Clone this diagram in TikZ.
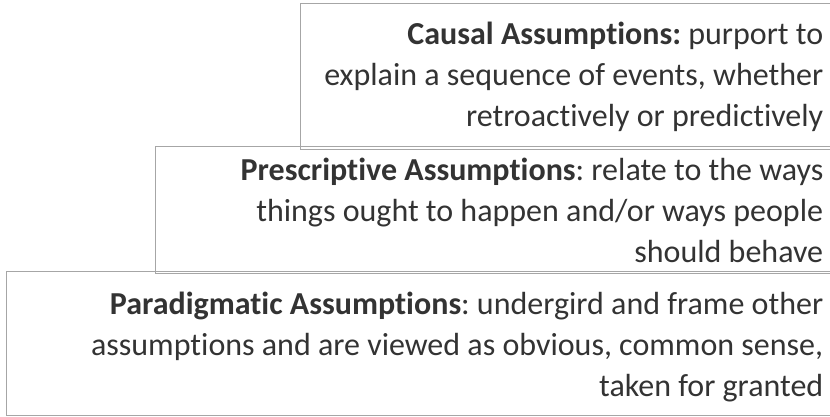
\documentclass[tikz,border=0pt]{standalone}
\usepackage{fontspec}
\setmainfont{Carlito}[Ligatures=NoCommon]
\frenchspacing
\begin{document}
\begin{tikzpicture}[
        x=1pt, y=-1pt,
        % Box and text styles
        assumption/.style={rectangle, draw=gray!70, line width=1.4pt, anchor=north west},
        desc/.style={anchor=east, align=right, inner sep=0pt, text=black!80, font=\fontsize{32}{41}\selectfont, xshift=-18pt}
    ]
        \useasboundingbox (0,0) rectangle (830,416);
        % Boxes, from top to bottom (right edges run off the page)
        \node (causal) [assumption, minimum width=540pt, minimum height=146pt] at (300,3) {};
        \node (prescr) [assumption, minimum width=685pt, minimum height=127pt] at (155,146) {};
        \node (paradigm) [assumption, minimum width=834pt, minimum height=144pt] at (6,271) {};
        % Texts, flush right inside each box
        \node (causaltxt) [desc] at (causal.east)
            {\textbf{Causal Assumptions:} purport to\\explain a sequence of events, whether\\retroactively or predictively};
        \node (prescrtxt) [desc] at (prescr.east)
            {\textbf{Prescriptive Assumptions}: relate to the ways\\things ought to happen and/or ways people\\should behave};
        \node (paradigmtxt) [desc, yshift=-3pt] at (paradigm.east)
            {\textbf{Paradigmatic Assumptions}: undergird and frame other\\assumptions and are viewed as obvious, common sense,\\taken for granted};
    \end{tikzpicture}
\end{document}
